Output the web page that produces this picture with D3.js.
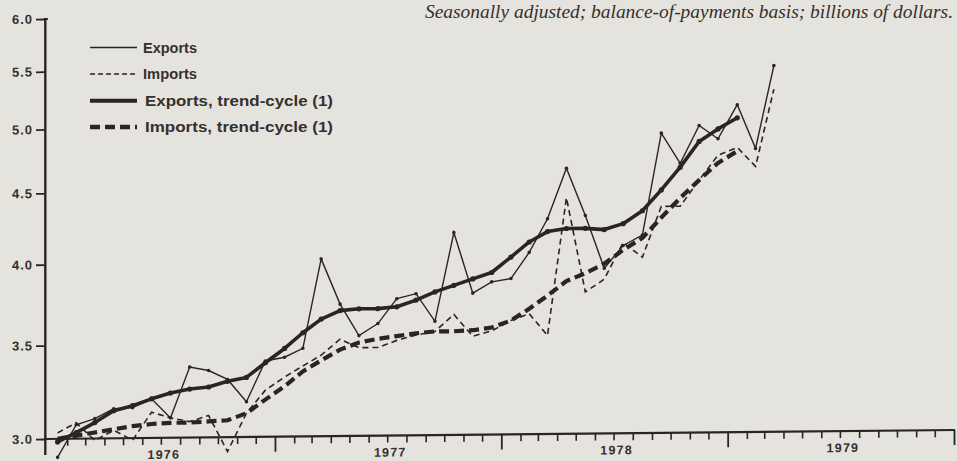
<!DOCTYPE html>
<html><head><meta charset="utf-8">
<script src="https://cdn.jsdelivr.net/npm/d3@7"></script>
<style>
html,body{margin:0;padding:0;background:#e5e3dd;}
svg{display:block;}
</style></head><body>
<svg id="chart" width="957" height="461"></svg>
<script>
// ---- data (billions of dollars, seasonally adjusted) ----
const months = ["1976-01","1976-02","1976-03","1976-04","1976-05","1976-06","1976-07","1976-08","1976-09","1976-10","1976-11","1976-12",
  "1977-01","1977-02","1977-03","1977-04","1977-05","1977-06","1977-07","1977-08","1977-09","1977-10","1977-11","1977-12",
  "1978-01","1978-02","1978-03","1978-04","1978-05","1978-06","1978-07","1978-08","1978-09","1978-10","1978-11","1978-12",
  "1979-01","1979-02","1979-03"];
const exportsVals = [2.91,3.07,3.10,3.15,3.155,3.20,3.10,3.37,3.35,3.30,3.18,3.40,
  3.42,3.47,4.02,3.73,3.54,3.61,3.76,3.79,3.62,4.19,3.79,3.86,
  3.88,4.05,4.28,4.65,4.30,3.94,4.09,4.16,4.92,4.68,4.98,4.87,
  5.15,4.79,5.49];
const importsVals = [3.03,3.08,2.99,3.04,2.99,3.13,3.10,3.08,3.11,2.93,3.12,3.24,
  3.31,3.37,3.43,3.52,3.47,3.47,3.51,3.54,3.56,3.66,3.53,3.56,
  3.62,3.66,3.53,4.43,3.79,3.87,4.11,4.01,4.36,4.36,4.55,4.74,
  4.80,4.65,5.28];
const exportsTrend = [2.985,3.03,3.08,3.14,3.165,3.20,3.23,3.25,3.26,3.29,3.31,3.39,
  3.47,3.56,3.64,3.69,3.70,3.70,3.71,3.75,3.80,3.84,3.88,3.92,
  4.02,4.12,4.19,4.21,4.21,4.20,4.24,4.33,4.48,4.65,4.85,4.95,
  5.04];
const importsTrend = [3.00,3.015,3.03,3.045,3.06,3.07,3.075,3.075,3.08,3.085,3.12,3.19,
  3.26,3.34,3.40,3.46,3.50,3.52,3.535,3.55,3.56,3.56,3.565,3.58,
  3.62,3.69,3.77,3.86,3.91,3.97,4.06,4.14,4.28,4.42,4.55,4.68,
  4.77];
const yTicks = [3.0,3.5,4.0,4.5,5.0,5.5,6.0];
const yearLabels = ["1976","1977","1978","1979"];
const legendLabels = ["Exports","Imports","Exports, trend-cycle (1)","Imports, trend-cycle (1)"];
const noteText = "Seasonally adjusted; balance-of-payments basis; billions of dollars.";

// ---- drawing ----
const ink = "#2a2523", textInk = "#35302d";
const svg = d3.select("#chart");
const parse = d3.timeParse("%Y-%m");
const x = d3.scaleTime().domain([new Date(1976,0,1), new Date(1980,0,1)]).range([48,954]);
const y = d3.scaleLog().domain([3,6]).range([439,19]);
const mid = d => { const t = parse(d); return (x(t) + x(d3.timeMonth.offset(t,1))) / 2; };

// scanned page is slightly tilted: shear the plot group
const g = svg.append("g").attr("transform","translate(45,0) skewY(-0.567) translate(-45,0)");

// y axis
const yAxis = d3.axisLeft(y).tickValues(yTicks).tickSize(9).tickSizeOuter(0).tickPadding(3).tickFormat(d3.format(".1f"));
const ya = g.append("g").attr("transform","translate(45,0)").call(yAxis);
ya.select(".domain").remove();
ya.selectAll(".tick line").attr("stroke",ink).attr("stroke-width",1.8);
ya.selectAll(".tick text").attr("fill",textInk).attr("font-family","'Liberation Sans',Arial,sans-serif")
  .attr("font-weight","bold").attr("font-size",13).attr("letter-spacing",1);
// vertical axis line, from the 6.0 tick down past the baseline
svg.append("path").attr("d",`M45.3,${y(6)-1}V455`).attr("stroke",ink).attr("stroke-width",2.4).attr("fill","none");
svg.append("path").attr("d",`M44,${y(6)}H48`).attr("stroke",ink).attr("stroke-width",1.8).attr("fill","none");

// x axis: monthly minor ticks, yearly major ticks
const xMinor = d3.axisBottom(x).ticks(d3.timeMonth.every(1)).tickSize(7).tickFormat("");
const xm = g.append("g").attr("transform","translate(0,439)").call(xMinor);
xm.select(".domain").remove();
xm.selectAll(".tick").filter(d => d.getMonth() === 0).remove();
xm.selectAll(".tick line").attr("stroke",ink).attr("stroke-width",1.6);
const xMajor = d3.axisBottom(x).tickValues([new Date(1977,0,1),new Date(1978,0,1),new Date(1979,0,1),new Date(1980,0,1)]).tickSize(15).tickFormat("");
const xM = g.append("g").attr("transform","translate(0,439)").call(xMajor);
xM.select(".domain").remove();
xM.selectAll(".tick line").attr("stroke",ink).attr("stroke-width",1.8);
g.append("path").attr("d","M45,439H955").attr("stroke",ink).attr("stroke-width",2.2).attr("fill","none");
g.selectAll(".yearlab").data(yearLabels).join("text").attr("class","yearlab")
  .attr("x", d => x(new Date(+d,6,1)) + 3).attr("y",460).attr("text-anchor","middle")
  .attr("fill",textInk).attr("font-family","'Liberation Sans',Arial,sans-serif").attr("font-weight","bold")
  .attr("font-size",12.5).attr("letter-spacing",1.2).text(d => d);

// series
const line = (vals) => d3.line().x((d,i) => mid(months[i])).y(d => y(d))(vals);
g.append("path").attr("d", line(importsTrend)).attr("fill","none").attr("stroke",ink)
  .attr("stroke-width",4.2).attr("stroke-dasharray","10,5");
g.append("path").attr("d", line(importsVals)).attr("fill","none").attr("stroke",ink)
  .attr("stroke-width",1.6).attr("stroke-dasharray","6,4");
g.append("path").attr("d", line(exportsTrend)).attr("fill","none").attr("stroke",ink)
  .attr("stroke-width",3.6).attr("stroke-linejoin","round");
g.append("path").attr("d", line(exportsVals)).attr("fill","none").attr("stroke",ink)
  .attr("stroke-width",1.4);
g.selectAll(".ed").data(exportsVals).join("circle").attr("class","ed")
  .attr("cx",(d,i)=>mid(months[i])).attr("cy",d=>y(d)).attr("r",1.8).attr("fill",ink);
g.selectAll(".td").data(exportsTrend).join("circle").attr("class","td")
  .attr("cx",(d,i)=>mid(months[i])).attr("cy",d=>y(d)).attr("r",2.6).attr("fill",ink);

// legend
const legRows = [
  {y:47.5, w:1.4, dash:null, tx:143, fs:14, len:54},
  {y:74,   w:1.6, dash:"5,3", tx:143, fs:14, len:54},
  {y:100.7,w:4,   dash:null, tx:145, fs:15.5, len:188},
  {y:127,  w:4.5, dash:"10,5", tx:145, fs:15.5, len:188}
];
const leg = svg.append("g");
legRows.forEach((r,i) => {
  leg.append("line").attr("x1",90).attr("x2",137).attr("y1",r.y).attr("y2",r.y)
    .attr("stroke",ink).attr("stroke-width",r.w).attr("stroke-dasharray",r.dash);
  leg.append("text").attr("x",r.tx).attr("y",r.y+5).attr("fill",textInk)
    .attr("font-family","'Liberation Sans',Arial,sans-serif").attr("font-weight","bold")
    .attr("font-size",r.fs).attr("textLength",r.len).attr("lengthAdjust","spacingAndGlyphs")
    .text(legendLabels[i]);
});

// note
svg.append("text").attr("x",425).attr("y",18).attr("fill",textInk)
  .attr("font-family","'Liberation Serif','Times New Roman',serif").attr("font-style","italic")
  .attr("font-size",18).attr("textLength",528).attr("lengthAdjust","spacingAndGlyphs").text(noteText);
</script>
</body></html>
